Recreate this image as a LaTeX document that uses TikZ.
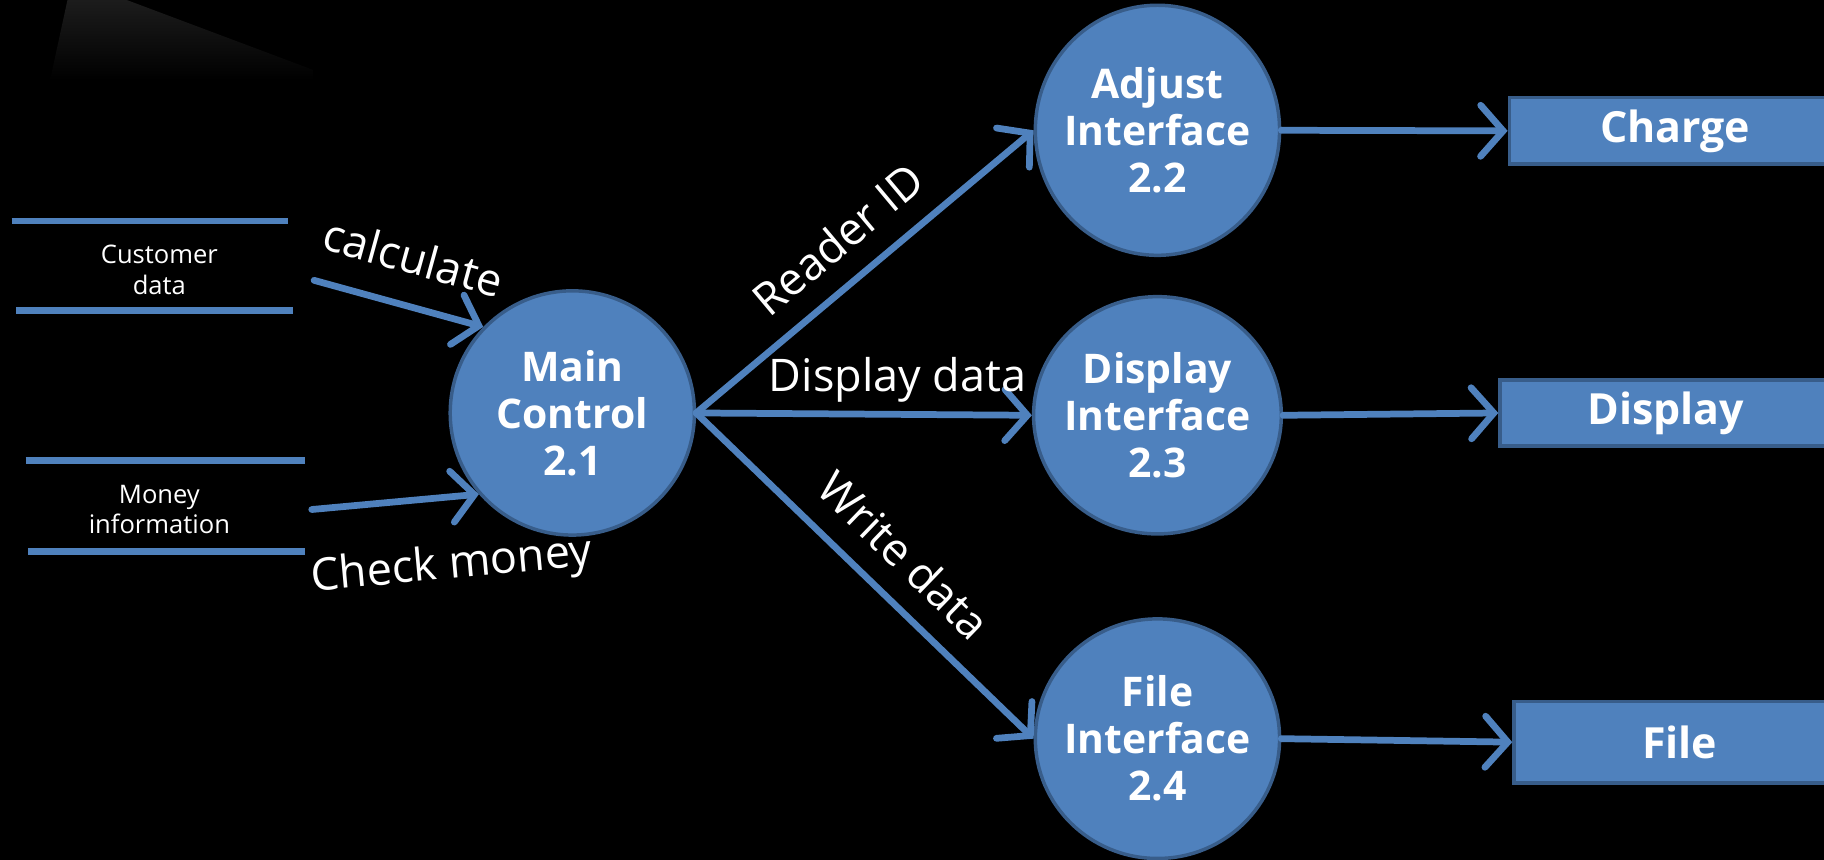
\documentclass[tikz,border=0pt]{standalone}
\usepackage{fontspec}
\setmainfont{Open Sans}
\usetikzlibrary{arrows.meta, shapes.geometric}

\definecolor{dfdblue}{HTML}{4F81BD}
\definecolor{dfdedge}{HTML}{385D8A}

\begin{document}
\begin{tikzpicture}[x=0.02cm, y=-0.02cm,
		every node/.style={text=white, font=\fontsize{22}{26}\selectfont},
		flow/.style={draw=dfdblue, line width=3.3pt, line cap=round,
			-{Straight Barb[length=11pt,width=25pt,line cap=round]}},
		process/.style={ellipse, fill=dfdblue, draw=dfdedge, line width=1.7pt, inner ysep=0pt, inner xsep=-0.15cm,
			align=center, font=\fontsize{20}{23}\selectfont\bfseries},
		sink/.style={rectangle, fill=dfdblue, draw=dfdedge, line width=1.7pt, anchor=west,
			minimum width=5.7cm, font=\fontsize{21}{24}\selectfont\bfseries},
		store/.style={draw=dfdblue, line width=3.3pt},
		storetext/.style={align=center, font=\fontsize{12.5}{15}\selectfont}]
		
		% Background and sheen
		\fill[black] (0,0) rectangle (1568,739);
		\useasboundingbox (0,0) rectangle (1568,739);
		\clip (0,0) rectangle (1568,739);
		\shade[top color=black!89!white, bottom color=black] (58,0) -- (109,0) -- (269,60) -- (269,69) -- (43,69) -- cycle;
		
		% Data stores
		\draw[store] (10,190) -- (248,190);
		\draw[store] (14,267) -- (252,267);
		\node[storetext] (cust) at (137,232) {Customer\\data};
		\draw[store] (22,396) -- (262,396);
		\draw[store] (24,474) -- (262,474);
		\node[storetext] (money) at (137,438) {Money\\information};
		
		% Processes
		\node[process, minimum width=4.2cm, minimum height=4.2cm] (main) at (492,355) {Main\\Control\\2.1};
		\node[process, minimum width=4.2cm, minimum height=4.3cm] (adjust) at (995,112) {Adjust\\Interface\\2.2};
		\node[process, minimum width=4.26cm, minimum height=4.08cm] (disp) at (995,357) {Display\\Interface\\2.3};
		\node[process, minimum width=4.2cm, minimum height=4.12cm] (file) at (995,635) {File\\Interface\\2.4};
		
		% Terminators
		\node[sink, minimum height=1.14cm] (charge) at (1296,112.5) {Charge};
		\node[sink, minimum height=1.14cm] (screen) at (1288,355) {Display};
		\node[sink, minimum height=1.4cm] (disk) at (1300,638) {File};
		
		% Inputs to main control
		\coordinate (calcstart) at (270,241);
		\coordinate (checkstart) at (268,438);
		\draw[flow] (calcstart) -- (main.136) node[pos=.51, sloped, yshift=0.84cm] {calculate};
		\draw[flow] (checkstart) -- (main.221) node[pos=.8, sloped, yshift=-1.2cm] {Check money};
		
		% Main control to interfaces
		\draw[flow] (main.east) -- (adjust.west) node[pos=.5, sloped, yshift=0.73cm] {Reader ID};
		\draw[flow] (main.east) -- (disp.west) node[pos=.6, yshift=0.6cm] {Display data};
		\draw[flow] (main.east) -- (file.west) node[pos=.53, sloped, yshift=0.73cm] {Write data};
		
		% Interfaces to terminators
		\draw[flow] (adjust.east) -- (charge.west);
		\draw[flow] (disp.east) -- (screen.west);
		\draw[flow] (file.east) -- (disk.west);
		
	\end{tikzpicture}
\end{document}
